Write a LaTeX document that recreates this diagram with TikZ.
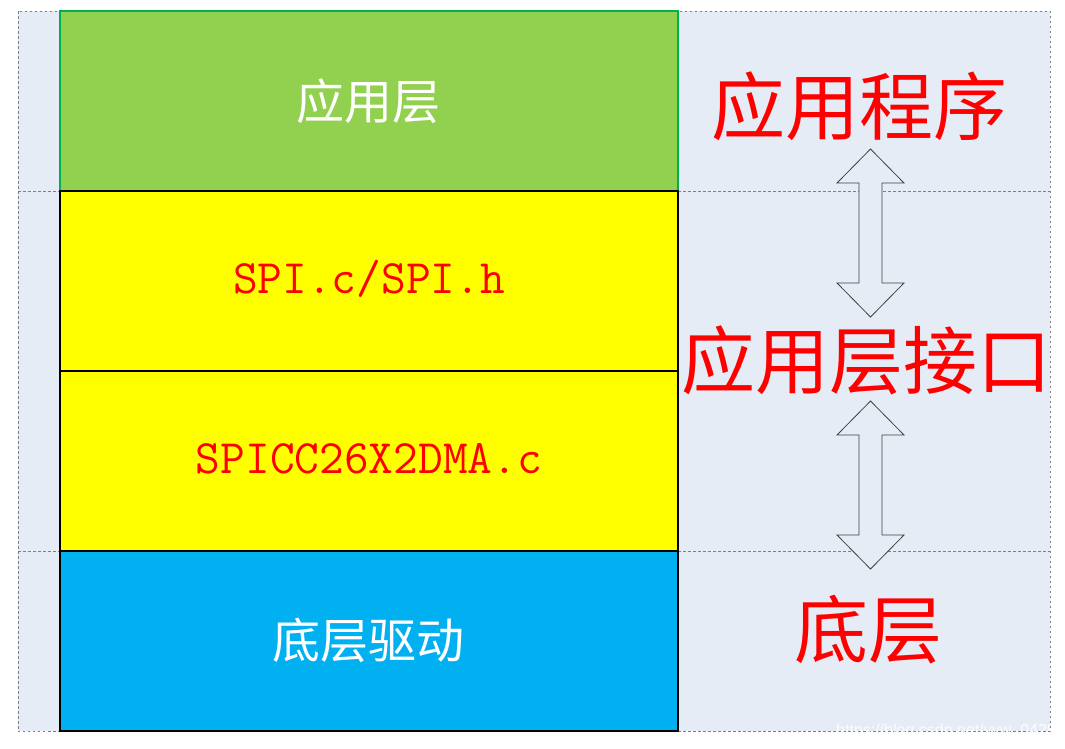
\documentclass[tikz,border=0pt]{standalone}
\usepackage{fontspec}
\newfontfamily\cjk{Noto Sans CJK SC}
\newfontfamily\wmfont{Liberation Sans}
\definecolor{bgblue}{HTML}{E6ECF6}
\definecolor{lgreen}{HTML}{92D050}
\definecolor{dgreen}{HTML}{00B050}
\definecolor{yel}{HTML}{FFFF00}
\definecolor{sky}{HTML}{00B0F0}
\definecolor{dgray}{HTML}{7F7F7F}
\begin{document}
\begin{tikzpicture}[x=1pt,y=-1pt,
  layer/.style={rectangle,minimum width=618pt,minimum height=180pt,inner sep=0pt,outer sep=0pt,line width=1.2pt,draw=black},
  boxtext/.style={font=\cjk\fontsize{48}{52}\selectfont},
  codetext/.style={text=red,font=\ttfamily\fontsize{48}{52}\selectfont},
  biglabel/.style={text=red,font=\cjk\fontsize{74}{78}\selectfont,inner sep=0pt},
  frameline/.style={draw=dgray,line width=0.9pt,dash pattern=on 2.5pt off 2.5pt},
  arrowline/.style={draw=black!75,line width=0.8pt,fill=bgblue,line join=miter}]
\useasboundingbox (0,0) rectangle (1065,748);
% background panel
\fill[bgblue] (18,11) rectangle (1050,731);
\draw[frameline] (18,191) -- (1050,191);
\draw[frameline] (18,551) -- (1050,551);
\draw[frameline] (18,11) rectangle (1050,731);
% layers
\node[layer,fill=lgreen,draw=dgreen] (app) at (369,101) {};
\node[layer,fill=yel] (spi) at (369,281) {};
\node[layer,fill=yel] (dma) at (369,461) {};
\node[layer,fill=sky] (drv) at (369,641) {};
\node[boxtext,text=white] (apptxt) at (368,101) {应用层};
\node[codetext] (spitxt) at (369,279) {SPI.c/SPI.h};
\node[codetext] (dmatxt) at (369,459) {SPICC26X2DMA.c};
\node[boxtext,text=white] (drvtxt) at (368,640) {底层驱动};
% right labels
\node[biglabel] (l1) at (859,106) {应用程序};
\node[biglabel] (l2) at (866,360) {应用层接口};
\node[biglabel] (l3) at (868,630) {底层};
% double block arrows
\foreach \t/\b in {149/317,401/569}
  \draw[arrowline] (870.5,\t) -- (904,\t+34) -- (882,\t+34) -- (882,\b-34)
    -- (904,\b-34) -- (870.5,\b) -- (837,\b-34) -- (859,\b-34)
    -- (859,\t+34) -- (837,\t+34) -- cycle;
% watermark
\node[text=white,opacity=0.85,font=\wmfont\fontsize{16}{18}\selectfont,inner sep=0pt] (wm) at (946,731) {https://blog.csdn.net/yyw\_0429};
\end{tikzpicture}
\end{document}
